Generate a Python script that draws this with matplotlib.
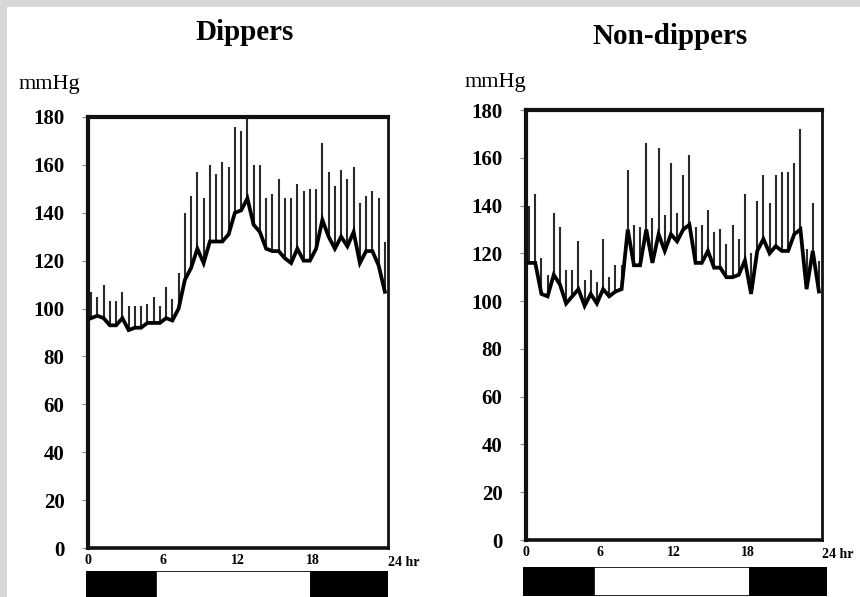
import matplotlib
matplotlib.use("Agg")
import matplotlib.pyplot as plt
from matplotlib.patches import Rectangle

SERIF = ["Liberation Serif", "DejaVu Serif"]
BORDER = "#d8d8d8"

# half-hourly readings, hours from start of recording
hours = [0.25 + 0.5 * i for i in range(48)]

# Dippers: mean SBP (thick line) and upper bar end (mean + SD)
dip_mean = [96, 97, 96, 93, 93, 96, 91, 92, 92, 94, 94, 94,
            96, 95, 100, 112, 117, 125, 119, 128, 128, 128, 131, 140,
            141, 146, 135, 132, 125, 124, 124, 121, 119, 125, 120, 120,
            125, 137, 130, 125, 130, 126, 132, 119, 124, 124, 118, 107]
dip_top = [107, 105, 110, 103, 103, 107, 101, 101, 101, 102, 105, 101,
           109, 104, 115, 140, 147, 157, 146, 160, 156, 161, 159, 176,
           174, 180, 160, 160, 146, 148, 154, 146, 146, 152, 149, 150,
           150, 169, 157, 151, 158, 154, 159, 144, 147, 149, 146, 128]

# Non-dippers
non_mean = [116, 116, 103, 102, 111, 107, 99, 102, 105, 98, 103, 99,
            105, 102, 104, 105, 130, 115, 115, 130, 116, 128, 121, 128,
            125, 130, 132, 116, 116, 121, 114, 114, 110, 110, 111, 117,
            103, 121, 126, 120, 123, 121, 121, 128, 130, 105, 121, 104]
non_top = [140, 145, 118, 111, 137, 131, 113, 113, 125, 109, 113, 108,
           126, 110, 115, 115, 155, 132, 131, 166, 135, 164, 136, 158,
           137, 153, 161, 131, 132, 138, 129, 130, 124, 132, 126, 145,
           120, 142, 153, 141, 153, 154, 154, 158, 172, 122, 141, 117]

yticks = [0, 20, 40, 60, 80, 100, 120, 140, 160, 180]
xticks = [0, 6, 12, 18]
day_start, day_end = 5.6, 17.9

W, H = 860, 597
fig = plt.figure(figsize=(W / 100, H / 100), dpi=100)
fig.patch.set_facecolor(BORDER)
fig.patches.append(Rectangle((7 / W, 0), 1, 1 - 7 / H, transform=fig.transFigure,
                             facecolor="white", edgecolor="none", zorder=-5))


def px(x0, y0, x1, y1):
    # pixel box (left, top, right, bottom) -> figure fraction rect
    return [x0 / W, 1 - y1 / H, (x1 - x0) / W, (y1 - y0) / H]


def panel(box, bar_box, mean, top, title, title_xy, unit_xy):
    ax = fig.add_axes(px(*box))
    ax.vlines(hours, mean, top, color="#2a2a2a", lw=1.5, zorder=2)
    ax.plot(hours, mean, color="black", lw=2.7, solid_joinstyle="miter", zorder=3)
    ax.set_xlim(0, 24)
    ax.set_ylim(0, 180)
    ax.set_yticks(yticks)
    ax.set_yticklabels([str(v) for v in yticks], family=SERIF,
                       fontweight="bold", fontsize=15)
    ax.set_xticks(xticks)
    ax.set_xticklabels([str(v) for v in xticks], family=SERIF,
                       fontweight="bold", fontsize=10)
    ax.tick_params(axis="y", length=4, width=0.8, color="#888888", pad=13)
    ax.tick_params(axis="x", length=0, pad=4)
    ax.text(24, -3.5, "24 hr", ha="left", va="top", family=SERIF,
            fontweight="bold", fontsize=10, clip_on=False)
    for side, lw in [("left", 3.0), ("top", 3.0), ("right", 2.0), ("bottom", 2.6)]:
        ax.spines[side].set_linewidth(lw)
        ax.spines[side].set_color("#111111")
    fig.text(title_xy[0] / W, 1 - title_xy[1] / H, title, ha="center",
             va="center", family=SERIF, fontweight="bold", fontsize=21)
    fig.text(unit_xy[0] / W, 1 - unit_xy[1] / H, "mmHg", ha="left",
             va="center", family=SERIF, fontsize=16)

    bx = fig.add_axes(px(*bar_box))
    bx.barh(0, [day_start, day_end - day_start, 24 - day_end],
            left=[0, day_start, day_end], height=1,
            color=["black", "white", "black"], edgecolor="black", lw=1.2)
    bx.set_xlim(0, 24)
    bx.set_ylim(-0.5, 0.5)
    bx.axis("off")


panel((88, 117, 388, 548), (86, 571, 388, 600), dip_mean, dip_top,
      "Dippers", (245, 33), (19, 85))
panel((526, 110, 822, 540), (523, 567, 827, 596), non_mean, non_top,
      "Non-dippers", (670, 36), (465, 83))

fig.savefig("out.png", dpi=100, facecolor=fig.get_facecolor())
